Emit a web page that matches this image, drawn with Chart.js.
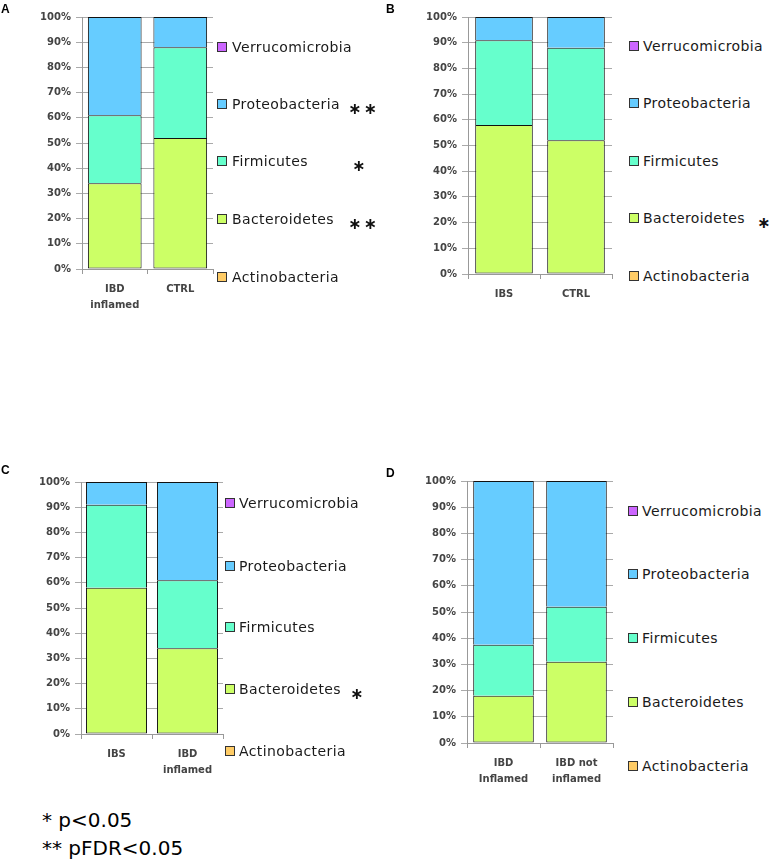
<!DOCTYPE html>
<html>
<head>
<meta charset="utf-8">
<script src="https://cdn.jsdelivr.net/npm/chart.js@4"></script>
<style>
  body { margin: 0; background: #fff; width: 770px; height: 860px; position: relative; overflow: hidden; font-family: "DejaVu Sans", Verdana, sans-serif; }
  canvas, .abs { position: absolute; }
  .letter { font: bold 12px "Liberation Sans", Arial, sans-serif; color: #000; }
  .sq { width: 8px; height: 8px; border: 1px solid #333; }
  .lbl { font-size: 14px; letter-spacing: 0.4px; color: #1a1a1a; transform: translateY(-50%); white-space: nowrap; }
  .star { font-size: 16px; font-weight: bold; letter-spacing: 2px; color: #111; transform: translateY(-50%); white-space: nowrap; }
  .note { font-size: 20px; color: #000; transform: translateY(-50%); white-space: nowrap; }
</style>
</head>
<body>
<script>
// phyla, bottom of the stack first
const phyla = ['Actinobacteria', 'Bacteroidetes', 'Firmicutes', 'Proteobacteria', 'Verrucomicrobia'];
const phylaColors = ['#FFCC66', '#CCFF66', '#66FFCC', '#66CCFF', '#CC66FF'];
const yTicks = [0, 10, 20, 30, 40, 50, 60, 70, 80, 90, 100];

// A: IBD inflamed vs CTRL
const groupsA = [['IBD', 'inflamed'], 'CTRL'];
const actinoA = [0, 0];
const bacteroA = [34, 52];
const firmiA = [27, 36];
const proteoA = [39, 12];
const verrucoA = [0, 0];
const starsA = ['', '**', '*', '**', ''];

// B: IBS vs CTRL
const groupsB = ['IBS', 'CTRL'];
const actinoB = [0, 0];
const bacteroB = [58, 52];
const firmiB = [33, 36];
const proteoB = [9, 12];
const verrucoB = [0, 0];
const starsB = ['', '*', '', '', ''];

// C: IBS vs IBD inflamed
const groupsC = ['IBS', ['IBD', 'inflamed']];
const actinoC = [0, 0];
const bacteroC = [58, 34];
const firmiC = [33, 27];
const proteoC = [9, 39];
const verrucoC = [0, 0];
const starsC = ['', '*', '', '', ''];

// D: IBD inflamed vs not inflamed
const groupsD = [['IBD', 'Inflamed'], ['IBD not', 'inflamed']];
const actinoD = [0, 0];
const bacteroD = [18, 31];
const firmiD = [19.5, 21];
const proteoD = [62.5, 48];
const verrucoD = [0, 0];
const starsD = ['', '', '', '', ''];

// page layout of each panel (plot box, legend rows top->bottom: Verruco..Actino)
const panels = [
  { letter: 'A', lx: 1, ly: 2, x: 0, y: 0, left: 82, right: 213, top: 17, bottom: 269, bar: 0.82,
    groups: groupsA, series: [actinoA, bacteroA, firmiA, proteoA, verrucoA], stars: starsA,
    sqX: 217, txtX: 232, starX: [0, 348, 352, 348, 0], rows: [47, 104, 161, 219, 277] },
  { letter: 'B', lx: 386, ly: 2, x: 385, y: 0, left: 468, right: 612, top: 17, bottom: 274, bar: 0.8,
    groups: groupsB, series: [actinoB, bacteroB, firmiB, proteoB, verrucoB], stars: starsB,
    sqX: 629, txtX: 643, starX: [0, 757, 0, 0, 0], rows: [46, 103, 161, 218, 276] },
  { letter: 'C', lx: 1, ly: 463, x: 0, y: 470, left: 81, right: 223, top: 482, bottom: 734, bar: 0.86,
    groups: groupsC, series: [actinoC, bacteroC, firmiC, proteoC, verrucoC], stars: starsC,
    sqX: 225, txtX: 239, starX: [0, 350, 0, 0, 0], rows: [503, 566, 627, 689, 751] },
  { letter: 'D', lx: 386, ly: 466, x: 385, y: 470, left: 467, right: 613, top: 478, bottom: 743, bar: 0.83,
    groups: groupsD, series: [actinoD, bacteroD, firmiD, proteoD, verrucoD], stars: starsD,
    sqX: 628, txtX: 642, starX: [0, 0, 0, 0, 0], rows: [511, 574, 638, 702, 766] }
];

function addDiv(cls, x, y, text) {
  const d = document.createElement('div');
  d.className = 'abs ' + cls;
  d.style.left = x + 'px';
  d.style.top = y + 'px';
  if (text !== undefined) d.textContent = text;
  document.body.appendChild(d);
  return d;
}

panels.forEach(p => {
  const cv = document.createElement('canvas');
  const w = p.right - p.x + 8;
  const h = p.bottom - p.y + 50;
  cv.style.left = p.x + 'px';
  cv.style.top = p.y + 'px';
  cv.style.width = w + 'px';
  cv.style.height = h + 'px';
  document.body.appendChild(cv);

  const datasets = phyla.map((name, i) => ({
    label: name,
    data: p.series[i],
    backgroundColor: phylaColors[i],
    borderColor: '#111',
    borderSkipped: false,
    borderWidth: i === 1 ? 1 : { top: 1, left: 1, right: 1, bottom: 0 },
    barPercentage: p.bar,
    categoryPercentage: 1
  }));

  new Chart(cv.getContext('2d'), {
    type: 'bar',
    data: { labels: p.groups, datasets: datasets },
    options: {
      responsive: false,
      maintainAspectRatio: false,
      animation: false,
      layout: { padding: { top: p.top - p.y, right: w - (p.right - p.x), left: 0, bottom: 0 } },
      plugins: { legend: { display: false }, tooltip: { enabled: false } },
      scales: {
        x: {
          stacked: true,
          afterFit: s => { s.height = 50; },
          border: { color: '#999', width: 1 },
          grid: { drawOnChartArea: false, color: '#999', tickLength: 5 },
          ticks: { color: '#444', padding: 7, font: { family: 'DejaVu Sans', size: 10, weight: 'bold', lineHeight: 1.6 } }
        },
        y: {
          stacked: true,
          min: 0,
          max: 100,
          afterFit: s => { s.width = p.left - p.x; },
          afterBuildTicks: s => { s.ticks = yTicks.map(v => ({ value: v })); },
          border: { color: '#999', width: 1 },
          grid: { color: '#aaa', tickLength: 6 },
          ticks: { color: '#444', padding: 5, font: { family: 'DejaVu Sans', size: 10, weight: 'bold' },
                   callback: v => v + '%' }
        }
      }
    }
  });

  addDiv('letter', p.lx, p.ly, p.letter);

  // legend rows, drawn top (Verrucomicrobia) to bottom (Actinobacteria)
  p.rows.forEach((ry, r) => {
    const i = phyla.length - 1 - r;
    const sq = addDiv('sq', p.sqX, ry - 5);
    sq.style.background = phylaColors[i];
    addDiv('lbl', p.txtX, ry, phyla[i]);
    if (p.stars[i]) addDiv('star', p.starX[i], ry + 4, p.stars[i].replace(/\*/g, '\u2217'));
  });
});

addDiv('note', 42, 820, '* p<0.05');
addDiv('note', 42, 848, '** pFDR<0.05');
</script>
</body>
</html>
